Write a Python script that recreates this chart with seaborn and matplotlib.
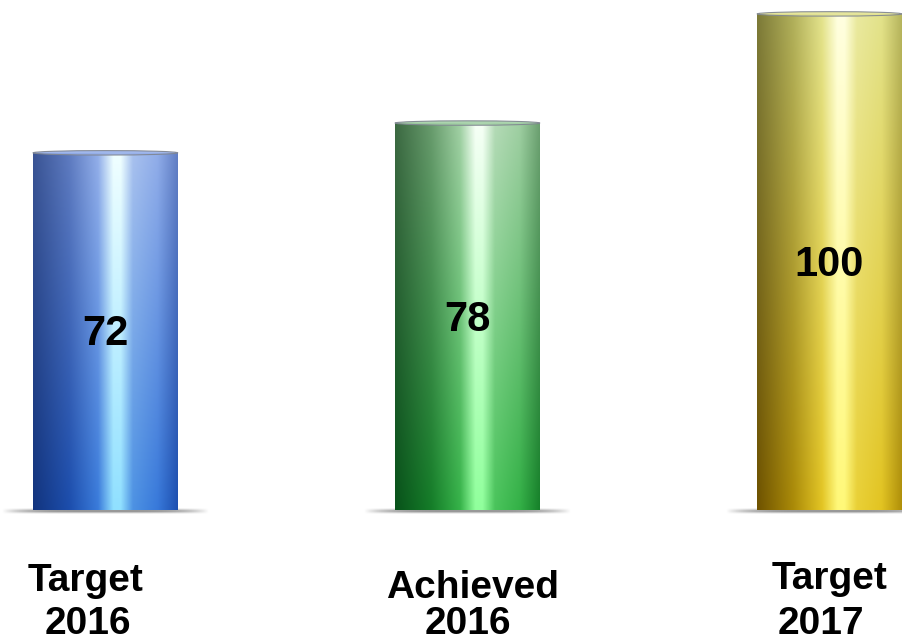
import numpy as np
import matplotlib
matplotlib.use("Agg")
import matplotlib.pyplot as plt
import seaborn as sns
import pandas as pd
from matplotlib.colors import to_rgb
from matplotlib.patches import Ellipse

# Chart data
categories = ["Target 2016", "Achieved 2016", "Target 2017"]
label_lines = [("Target", "2016"), ("Achieved", "2016"), ("Target", "2017")]
values = [72, 78, 100]

# Cylinder shading: (left edge, body, highlight) at the top and at the base
top_shades = [("#3a5494", "#7c9be4", "#f0ffff"),
              ("#3c6942", "#8cc490", "#f6fff6"),
              ("#7c7a38", "#dcdc78", "#ffffe0")]
base_shades = [("#12347e", "#2462d2", "#90e0ff"),
               ("#08521a", "#1fa034", "#90ff9c"),
               ("#6e5200", "#dcb80e", "#fff878")]

sns.set_theme(style="white")
plt.rcParams["font.family"] = ["Liberation Sans", "DejaVu Sans"]

fig = plt.figure(figsize=(9.03, 6.43), dpi=100)
ax = fig.add_axes([0, 0, 1, 1])

df = pd.DataFrame({"category": categories, "value": values})
sns.barplot(data=df, x="category", y="value", hue="category",
            palette=[b[1] for b in base_shades], width=0.4, saturation=1,
            legend=False, ax=ax, edgecolor="none")

ax.set_xlim(-0.291, 2.203)
ax.set_ylim(-26.8, 102.8)
ax.axis("off")


def mix(a, b, f):
    a, b = np.array(to_rgb(a)), np.array(to_rgb(b))
    return a + (b - a) * f


def row_colors(shade, t):
    L, B, H = shade
    stops_t = [0.0, 0.25, 0.45, 0.555, 0.605, 0.69, 0.86, 1.0]
    stops_c = np.array([mix(L, L, 0), mix(L, B, 0.55), mix(B, H, 0.2), mix(H, H, 0),
                        mix(H, H, 0), mix(B, H, 0.38), mix(B, H, 0.18), mix(B, L, 0.4)])
    return np.stack([np.interp(t, stops_t, stops_c[:, k]) for k in range(3)], axis=-1)


bars = sorted(ax.patches, key=lambda p: p.get_x())
nx, ny = 240, 240
t = np.linspace(0, 1, nx)
for i, (patch, val) in enumerate(zip(bars, values)):
    x0, w, h = patch.get_x(), patch.get_width(), patch.get_height()
    cx = x0 + w / 2

    # floor shadow under the cylinder
    sx = np.linspace(-1, 1, 300)
    sy = np.linspace(-1, 1, 20)
    a = np.clip(1 - np.abs(sx) ** 4, 0, 1)[None, :] * np.clip(1 - np.abs(sy), 0, 1)[:, None]
    shadow = np.zeros((20, 300, 4))
    shadow[..., :3] = 0.5
    shadow[..., 3] = a
    ax.imshow(shadow, extent=[cx - 0.285, cx + 0.285, -0.75, 0.45], aspect="auto",
              zorder=1, interpolation="bilinear")

    # body gradient: horizontal cylinder shading, blended top to base
    top_row = row_colors(top_shades[i], t)
    base_row = row_colors(base_shades[i], t)
    v = np.linspace(0, 1, ny)[:, None, None]
    img = base_row[None] * (1 - v) + top_row[None] * v
    im = ax.imshow(img, extent=[x0, x0 + w, 0, h], origin="lower",
                   aspect="auto", zorder=3, interpolation="bilinear")
    im.set_clip_path(patch)
    patch.set_zorder(2)

    # flat top rim
    ax.add_patch(Ellipse((cx, h), w, 0.9, facecolor=mix(top_shades[i][1], "#ffffff", 0.2),
                         edgecolor="#7f8590", lw=0.8, alpha=0.9, zorder=4))

    # value label
    ax.annotate(f"{val}", (i, val / 2), xytext=(0, -3), textcoords="offset pixels",
                ha="center", va="center", fontsize=30, fontweight="bold",
                color="black", zorder=6)

# category labels under each cylinder
line_offsets = [((-20, -81), (-17, -124)),
                ((5, -88), (0, -124)),
                ((0, -79), (-9, -124))]
for i, (lines, offs) in enumerate(zip(label_lines, line_offsets)):
    for text, (dx, dy) in zip(lines, offs):
        ax.annotate(text, (i, 0), xytext=(dx, dy), textcoords="offset pixels",
                    ha="center", va="baseline", fontsize=28, fontweight="bold",
                    color="black")

fig.savefig("out.png", dpi=100, facecolor="white")
